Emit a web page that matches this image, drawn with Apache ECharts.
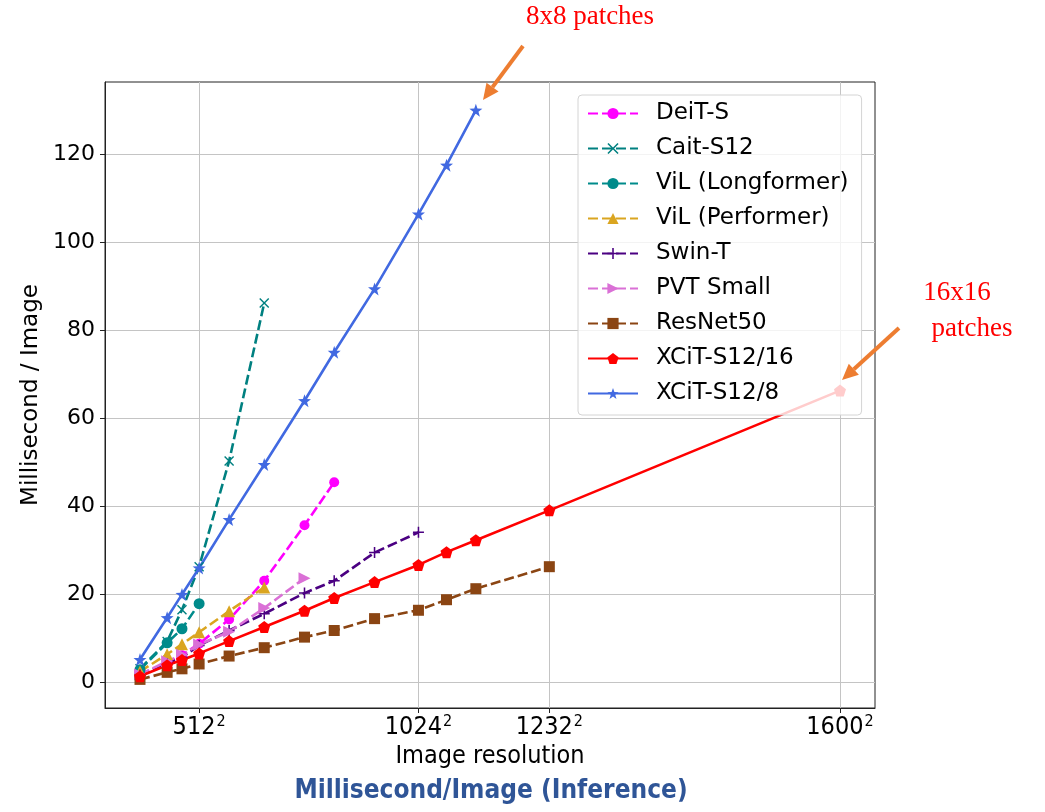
<!DOCTYPE html>
<html>
<head>
<meta charset="utf-8">
<title>Millisecond/Image (Inference)</title>
<script src="https://cdn.jsdelivr.net/npm/echarts@6/dist/echarts.min.js"></script>
<style>
  html, body { margin: 0; padding: 0; background: #fff; }
  #chart { width: 1045px; height: 812px; }
</style>
</head>
<body>
<div id="chart"></div>
<script>
  // image side length in pixels, the x axis is the pixel count (side^2)
  const resolutions = [224, 384, 448, 512, 608, 704, 800, 864, 944, 1024, 1072, 1120, 1232, 1600]
  const xTickSides = [512, 1024, 1232, 1600]
  const yTicks = [0, 20, 40, 60, 80, 100, 120]

  // ms / image, aligned with resolutions (null = not measured)
  const deitS = [1.9, 4.4, 6.2, 8.8, 14.3, 23.1, 35.7, 45.5, null, null, null, null, null, null]
  const caitS12 = [3.1, 9.3, 16.5, 26.3, 50.3, 86.2, null, null, null, null, null, null, null, null]
  const vilLongformer = [2.9, 9.0, 12.2, 17.9, null, null, null, null, null, null, null, null, null, null]
  const vilPerformer = [2.5, 6.4, 8.7, 11.4, 16.2, 21.6, null, null, null, null, null, null, null, null]
  const swinT = [1.7, 4.3, 5.7, 8.4, 11.8, 15.6, 20.3, 23.1, 29.5, 34.1, null, null, null, null]
  const pvtSmall = [1.8, 4.8, 6.3, 8.6, 11.5, 16.9, 23.7, null, null, null, null, null, null, null]
  const resnet50 = [0.7, 2.3, 3.1, 4.2, 6.0, 7.9, 10.3, 11.8, 14.5, 16.4, 18.8, 21.3, 26.3, null]
  const xcit16 = [1.4, 3.9, 5.1, 6.6, 9.4, 12.6, 16.3, 19.2, 22.8, 26.7, 29.6, 32.3, 39.1, 66.3]
  const xcit8 = [5.2, 14.7, 20.0, 26.0, 37.0, 49.5, 64.0, 75.0, 89.4, 106.4, 117.5, 130.0, null, null]

  const STAR = 'path://M10,0L12.35,6.76L19.51,6.91L13.8,11.24L15.88,18.09L10,14L4.12,18.09L6.2,11.24L0.49,6.91L7.65,6.76Z'
  const PENTAGON = 'path://M10,0L19.51,6.91L15.88,18.09L4.12,18.09L0.49,6.91Z'
  const PLUS = 'path://M4.3,0H5.7V4.3H10V5.7H5.7V10H4.3V5.7H0V4.3H4.3Z'
  const CROSS = 'path://M0,1L1,0L5,4L9,0L10,1L6,5L10,9L9,10L5,6L1,10L0,9L4,5Z'
  const TRI_RIGHT = 'path://M0,0L10,5L0,10Z'

  const FONT = 'DejaVu Sans'
  const NARROW = '"DejaVu Sans Condensed", "Liberation Sans", sans-serif'

  function pairs(values) {
    let out = []
    values.forEach((v, i) => {
      if (v !== null) out.push([resolutions[i] * resolutions[i], v])
    })
    return out
  }

  function makeSeries(name, values, color, symbol, size, dashed) {
    return {
      name: name,
      type: 'line',
      data: pairs(values),
      symbol: symbol,
      symbolSize: size,
      showAllSymbol: true,
      color: color,
      itemStyle: {color: color},
      lineStyle: {color: color, width: 2.6, type: dashed ? [10, 4] : 'solid'},
      emphasis: {disabled: true},
      animation: false
    }
  }

  // orange annotation arrow from tail to head
  function arrow(x1, y1, x2, y2) {
    let dx = x2 - x1, dy = y2 - y1
    let len = Math.sqrt(dx * dx + dy * dy)
    let ux = dx / len, uy = dy / len
    let bx = x2 - ux * 16, by = y2 - uy * 16
    let px = -uy * 7.5, py = ux * 7.5
    return [
      {type: 'line', shape: {x1: x1, y1: y1, x2: bx, y2: by}, style: {stroke: '#ED7D31', lineWidth: 4}, z: 100},
      {type: 'polygon', shape: {points: [[x2, y2], [bx + px, by + py], [bx - px, by - py]]}, style: {fill: '#ED7D31'}, z: 100}
    ]
  }

  let chart = echarts.init(document.getElementById('chart'))

  let option = {
    backgroundColor: '#fff',
    animation: false,
    title: {
      text: 'Millisecond/Image (Inference)',
      left: 491,
      textAlign: 'center',
      top: 778,
      padding: 0,
      textStyle: {fontFamily: NARROW, fontWeight: 'bold', fontSize: 26, color: '#2F5597'}
    },
    grid: {
      left: 105, right: 170, top: 82, bottom: 104,
      show: true, borderColor: '#222', borderWidth: 1
    },
    legend: {
      orient: 'vertical',
      left: 578, top: 95,
      padding: [7, 13, 10, 9],
      itemWidth: 50, itemHeight: 14, itemGap: 12,
      backgroundColor: 'rgba(255,255,255,0.8)',
      borderColor: '#d4d4d4', borderWidth: 1, borderRadius: 4,
      textStyle: {fontFamily: FONT, fontSize: 23, lineHeight: 23, color: '#000', padding: [0, 0, 0, 13]},
      z: 10
    },
    xAxis: {
      type: 'value',
      min: -75315, max: 2685491,
      name: 'Image resolution',
      nameLocation: 'middle',
      nameGap: 34,
      nameTextStyle: {fontFamily: NARROW, fontSize: 25, color: '#000'},
      axisLine: {show: true, onZero: false, lineStyle: {color: '#222', width: 1}},
      axisTick: {show: true, length: 5, lineStyle: {color: '#222'}, customValues: xTickSides.map(s => s * s)},
      axisLabel: {
        customValues: xTickSides.map(s => s * s),
        margin: 6,
        fontFamily: NARROW, fontSize: 25, color: '#000',
        formatter: v => '{b|' + Math.round(Math.sqrt(v)) + '}{s|2}',
        rich: {
          b: {fontFamily: NARROW, fontSize: 25, color: '#000'},
          s: {fontFamily: NARROW, fontSize: 16, color: '#000', padding: [0, 0, 10, 1]}
        }
      },
      splitLine: {show: true, lineStyle: {color: '#c4c4c4', width: 1}}
    },
    yAxis: {
      type: 'value',
      min: -5.8, max: 136.4,
      name: 'Millisecond / Image',
      nameLocation: 'middle',
      nameGap: 58,
      nameTextStyle: {fontFamily: FONT, fontSize: 23, color: '#000'},
      axisLine: {show: true, onZero: false, lineStyle: {color: '#222', width: 1}},
      axisTick: {show: true, length: 5, lineStyle: {color: '#222'}, customValues: yTicks},
      axisLabel: {customValues: yTicks, margin: 10, fontFamily: FONT, fontSize: 22, color: '#000'},
      splitLine: {show: true, lineStyle: {color: '#c4c4c4', width: 1}}
    },
    series: [
      makeSeries('DeiT-S', deitS, '#FF00FF', 'circle', 10, true),
      makeSeries('Cait-S12', caitS12, '#008080', CROSS, 10, true),
      makeSeries('ViL (Longformer)', vilLongformer, '#008B8B', 'circle', 11, true),
      makeSeries('ViL (Performer)', vilPerformer, '#DAA520', 'triangle', 12, true),
      makeSeries('Swin-T', swinT, '#4B0082', PLUS, 11, true),
      makeSeries('PVT Small', pvtSmall, '#DA70D6', TRI_RIGHT, 12, true),
      makeSeries('ResNet50', resnet50, '#8B4513', 'rect', 11, true),
      makeSeries('XCiT-S12/16', xcit16, '#FF0000', PENTAGON, 12, false),
      makeSeries('XCiT-S12/8', xcit8, '#4169E1', STAR, 13, false)
    ],
    graphic: [
      {type: 'text', x: 590, y: 17, style: {text: '8x8 patches', fill: '#FF0000', font: '27px "Liberation Serif"', align: 'center', verticalAlign: 'middle'}, z: 100},
      {type: 'text', x: 957, y: 293, style: {text: '16x16', fill: '#FF0000', font: '27px "Liberation Serif"', align: 'center', verticalAlign: 'middle'}, z: 100},
      {type: 'text', x: 972, y: 329, style: {text: 'patches', fill: '#FF0000', font: '27px "Liberation Serif"', align: 'center', verticalAlign: 'middle'}, z: 100}
    ].concat(arrow(523, 46, 483, 100), arrow(899, 328, 842, 380))
  }

  chart.setOption(option)
</script>
</body>
</html>
